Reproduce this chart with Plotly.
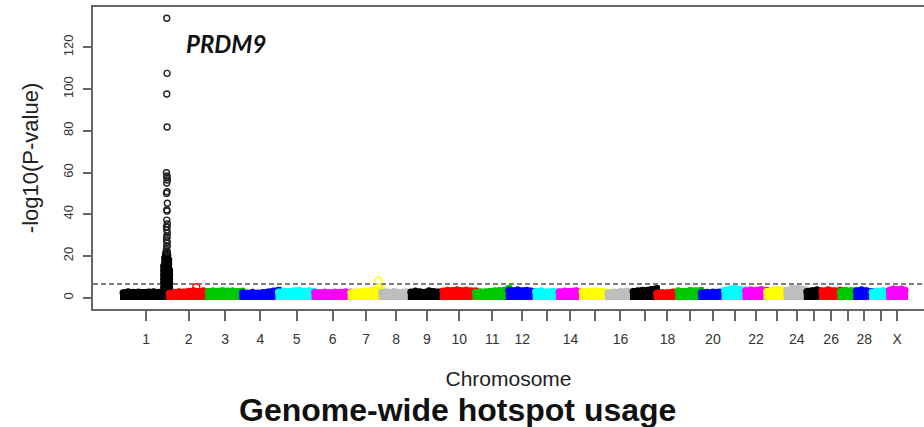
import plotly.graph_objects as go

# ---------------- data ----------------
chrom_labels = ["1", "2", "3", "4", "5", "6", "7", "8", "9", "10", "11", "12", "13", "14", "15",
                "16", "17", "18", "19", "20", "21", "22", "23", "24", "25", "26", "27", "28", "29", "X"]
shown_labels = {"1", "2", "3", "4", "5", "6", "7", "8", "9", "10", "11", "12", "14", "16", "18",
                "20", "22", "24", "26", "28", "X"}
# chromosome lengths (Mb)
chrom_len = [158, 134, 117, 124, 124, 124, 106, 100, 110, 112, 114, 92, 80, 79, 89,
             86, 81, 74, 79, 80, 72, 72, 69, 69, 52, 63, 55, 54, 59, 54]
# upper envelope of the dense band of -log10(P) for each chromosome
band_tops = [
    [2.4, 2.9, 2.6, 2.8, 2.5, 2.7, 2.9, 2.6, 2.8, 3.0],
    [2.0, 2.6, 2.9, 2.7, 3.1, 3.4, 3.0, 3.3, 2.8],
    [3.0, 3.3, 3.1, 3.4, 3.2, 3.3, 3.0, 3.2],
    [2.4, 2.2, 2.6, 2.3, 2.5, 2.8, 3.2, 3.6],
    [2.8, 3.2, 3.0, 3.3, 3.6, 3.1, 3.4, 3.0],
    [2.6, 2.4, 2.7, 2.5, 2.8, 2.6, 2.9, 2.7],
    [2.5, 2.8, 2.6, 2.9, 3.1, 3.3, 3.9, 4.3],
    [2.6, 2.9, 2.5, 3.0, 2.6, 2.8, 2.9, 2.5],
    [2.8, 3.2, 2.9, 2.6, 3.3, 3.0, 2.7, 2.9],
    [3.2, 3.6, 3.4, 3.8, 3.5, 3.7, 3.4, 3.3],
    [2.6, 2.9, 2.7, 3.0, 3.3, 3.5, 3.6, 4.6],
    [3.6, 3.4, 3.8, 3.3, 3.6, 3.2, 3.0],
    [3.0, 3.3, 2.9, 3.1, 2.8],
    [2.9, 3.2, 3.0, 3.4, 2.9],
    [3.0, 3.2, 3.4, 3.1, 2.8],
    [2.4, 2.8, 3.0, 3.2, 3.0],
    [3.0, 3.3, 3.6, 3.4, 4.0, 4.4],
    [2.2, 2.5, 2.4, 2.8, 3.0],
    [3.4, 3.0, 3.5, 3.2, 3.6],
    [2.4, 2.6, 2.8, 2.6, 3.0],
    [3.6, 4.2, 4.5, 4.0, 3.8],
    [3.4, 3.8, 3.5, 3.9, 3.6],
    [3.0, 3.6, 4.0, 3.8, 3.4],
    [3.6, 4.4, 4.6, 4.2, 3.8],
    [3.0, 3.4, 3.8, 3.2],
    [3.2, 3.8, 3.4, 3.6],
    [3.0, 3.6, 3.3, 3.6],
    [3.2, 3.8, 3.4, 3.0],
    [2.8, 3.2, 3.4, 3.0],
    [3.6, 4.2, 3.8, 4.2, 3.6],
]
band_floor = 0.3

# PRDM9 peak on chromosome 1 (position in Mb, -log10 P)
peak_pos = [150, 151, 150, 151, 149, 151, 150, 152, 150, 151, 149, 152, 150, 151, 150,
            152, 149, 151, 150, 152, 150, 151, 149, 152, 150, 151, 149, 152]
peak_val = [133.9, 107.5, 97.6, 81.8, 59.9, 58.3, 57.5, 56.4, 55.0, 50.8, 50.0, 45.3, 42.0, 41.5, 37.2,
            35.3, 34.0, 33.7, 32.4, 31.0, 29.5, 28.9, 27.6, 26.5, 25.0, 24.4, 23.0, 22.0]
dense_pos = [141, 144.5, 148, 151.5, 155, 158]
dense_vals = [
    [3, 5, 7, 9, 11, 13, 15],
    [3, 5, 7, 9, 11, 13, 15, 17, 19],
    [4, 6, 8, 10, 12, 14, 16, 18, 20, 21.4],
    [3, 5, 7, 9, 11, 13, 15, 17, 19, 20.5],
    [4, 6, 8, 10, 12, 14, 16, 18],
    [3, 5, 7, 9, 11, 13],
]
# isolated points above the band (chromosome index, position Mb, -log10 P)
extra_chr = [1, 6]
extra_pos = [93, 95]
extra_val = [5.0, 8.1]

threshold = 6.6
palette = ["#000000", "#FF0000", "#00C800", "#0000FF", "#00FFFF", "#FF00FF", "#FFFF00", "#BEBEBE"]

# ---------------- figure ----------------
fig = go.Figure()
offsets = []
acc = 0
for L in chrom_len:
    offsets.append(acc)
    acc += L

MSIZE = 6
MLW = 1.4

for i, L in enumerate(chrom_len):
    col = palette[i % len(palette)]
    off = offsets[i]
    tops = band_tops[i]
    n = len(tops)
    xs = [off + L * k / (n - 1) for k in range(n)]
    px = xs + [off + L, off, xs[0]]
    py = tops + [band_floor, band_floor, tops[0]]
    fig.add_trace(go.Scatter(x=px, y=py, mode="lines", fill="toself", fillcolor=col,
                             line=dict(color=col, width=6), hoverinfo="skip", showlegend=False))
    fig.add_trace(go.Scatter(x=xs, y=tops, mode="markers",
                             marker=dict(symbol="circle", size=7, color=col),
                             hoverinfo="skip", showlegend=False))
    if i == 0:
        dx, dy = [], []
        for p, vals in zip(dense_pos, dense_vals):
            for v in vals:
                dx.append(off + p)
                dy.append(v)
        fig.add_trace(go.Scatter(x=dx, y=dy, mode="markers",
                                 marker=dict(symbol="circle-open", size=MSIZE, color=col,
                                             line=dict(width=2.2, color=col)),
                                 hoverinfo="skip", showlegend=False))
        fig.add_trace(go.Scatter(x=[off + p for p in peak_pos], y=peak_val, mode="markers",
                                 marker=dict(symbol="circle-open", size=MSIZE, color="#222",
                                             line=dict(width=MLW, color="#222")),
                                 showlegend=False))
    for c, p, v in zip(extra_chr, extra_pos, extra_val):
        if c == i:
            fig.add_trace(go.Scatter(x=[off + p], y=[v], mode="markers",
                                     marker=dict(symbol="circle-open", size=MSIZE + 1, color=col,
                                                 line=dict(width=MLW, color=col)),
                                     showlegend=False))

tickvals = [offsets[i] + chrom_len[i] / 2 for i in range(len(chrom_len))]
ticktext = [lab if lab in shown_labels else "" for lab in chrom_labels]

fig.add_shape(type="line", xref="paper", x0=0, x1=1, yref="y", y0=threshold, y1=threshold,
              line=dict(color="#555555", width=1.5, dash="5px,3px"), layer="below")

fig.add_annotation(x=353, y=122, xref="x", yref="y", text="<b><i>PRDM9</i></b>", showarrow=False,
                   font=dict(family="Lato", size=24, color="#111"))
fig.add_annotation(x=0.439, y=-0.335, xref="paper", yref="paper", text="<b>Genome-wide hotspot usage</b>",
                   showarrow=False, font=dict(family="Liberation Sans", size=32, color="#111"),
                   xanchor="center", yanchor="middle")

axis_col = "#666666"
fig.update_layout(
    width=924, height=427,
    margin=dict(l=93, r=0, t=7, b=118),
    paper_bgcolor="white", plot_bgcolor="white",
    font=dict(family="Liberation Sans", color="#333"),
    xaxis=dict(range=[-103, 2747], tickmode="array", tickvals=tickvals, ticktext=ticktext,
               ticks="outside", ticklen=10, tickwidth=1.5, tickcolor=axis_col,
               showline=True, linecolor=axis_col, linewidth=1.5, mirror=True,
               showgrid=False, zeroline=False, tickfont=dict(size=14, color="#333"),
               ticklabelstandoff=6,
               title=dict(text="Chromosome", font=dict(size=21, color="#222"), standoff=26)),
    yaxis=dict(range=[-5.4, 139.3], tickmode="array", tickvals=[0, 20, 40, 60, 80, 100, 120],
               tickangle=-90, ticks="outside", ticklen=8, tickwidth=1.5, tickcolor=axis_col,
               showline=True, linecolor=axis_col, linewidth=1.5, mirror=False,
               showgrid=False, zeroline=False, tickfont=dict(size=13, color="#333"),
               ticklabelstandoff=5,
               title=dict(text="-log10(P-value)", font=dict(size=22, color="#222"), standoff=16)),
)

fig.write_html("out.html")
